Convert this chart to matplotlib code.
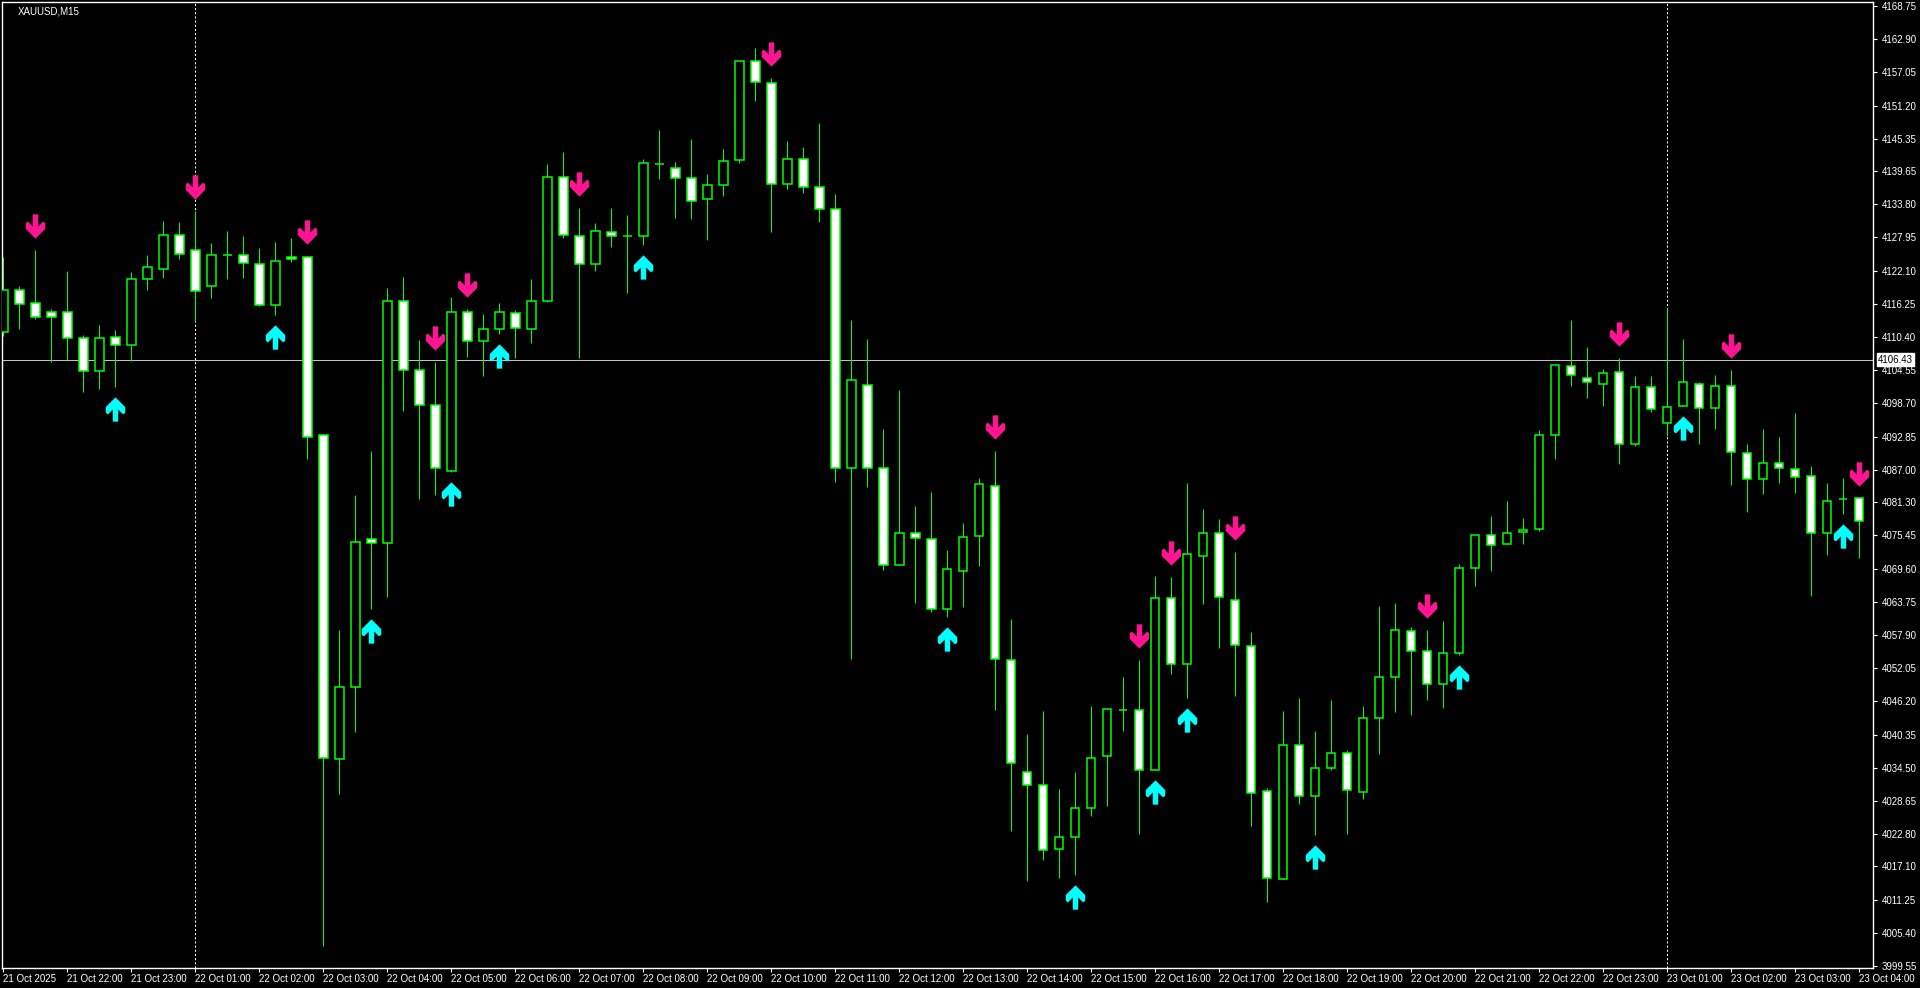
import numpy as np
import matplotlib
matplotlib.use("Agg")
import matplotlib.pyplot as plt
from matplotlib.path import Path
from matplotlib.transforms import offset_copy

# XAUUSD M15 candles, 21 Oct 21:00 -> 23 Oct 04:00
opens = [4111.31, 4118.66, 4116.32, 4114.87, 4114.87, 4110.31, 4104.41, 4110.42, 4109.08, 4120.55,
         4122.44, 4128.45, 4125.67, 4119.32, 4124.89, 4124.89, 4123.33, 4116.10, 4124.56, 4124.45,
         4093.05, 4035.95, 4048.75, 4074.80, 4074.02, 4116.76, 4104.63, 4098.51, 4086.82, 4114.76,
         4109.64, 4111.87, 4114.65, 4111.76, 4116.76, 4138.69, 4128.23, 4123.33, 4128.90, 4128.23,
         4128.23, 4140.92, 4140.14, 4138.36, 4134.69, 4137.25, 4141.59, 4159.06, 4155.17, 4137.36,
         4141.70, 4136.91, 4133.02, 4087.38, 4101.96, 4087.38, 4070.23, 4075.80, 4074.80, 4062.55,
         4069.12, 4075.35, 4084.15, 4053.53, 4033.72, 4031.49, 4020.25, 4022.25, 4027.48, 4036.50,
         4044.74, 4044.74, 4034.16, 4064.33, 4052.75, 4071.79, 4075.80, 4064.11, 4055.98, 4030.38,
         4014.80, 4038.51, 4029.60, 4034.50, 4037.17, 4030.27, 4043.18, 4050.42, 4058.54, 4055.09,
         4049.19, 4054.65, 4069.67, 4075.57, 4073.90, 4076.02, 4076.58, 4093.16, 4105.29, 4103.18,
         4102.18, 4104.30, 4091.49, 4101.62, 4095.17, 4098.29, 4102.18, 4097.95, 4101.85, 4089.93,
         4085.37, 4088.15, 4087.15, 4085.93, 4075.91, 4081.81, 4082.03]
highs = [4124.45, 4119.44, 4125.78, 4115.32, 4121.99, 4110.75, 4112.53, 4111.64, 4121.88, 4124.89,
         4130.90, 4130.68, 4132.57, 4127.00, 4129.12, 4128.23, 4126.12, 4127.12, 4127.90, 4124.67,
         4093.27, 4058.77, 4082.59, 4090.38, 4118.99, 4120.99, 4109.86, 4106.08, 4117.43, 4115.32,
         4114.42, 4116.43, 4115.09, 4120.66, 4140.92, 4143.04, 4133.13, 4130.57, 4133.13, 4131.90,
         4141.70, 4146.82, 4141.25, 4145.37, 4139.14, 4143.59, 4159.06, 4161.40, 4156.06, 4145.04,
         4143.81, 4148.04, 4135.58, 4113.42, 4109.97, 4094.17, 4101.07, 4080.70, 4083.03, 4072.90,
         4077.69, 4085.48, 4090.38, 4060.66, 4040.40, 4044.52, 4030.82, 4033.83, 4045.41, 4044.85,
         4050.42, 4053.53, 4068.34, 4068.12, 4084.70, 4080.14, 4078.25, 4072.57, 4058.43, 4030.93,
         4044.52, 4046.74, 4040.96, 4046.41, 4037.61, 4045.41, 4063.00, 4063.55, 4059.32, 4058.77,
         4060.44, 4070.45, 4075.46, 4078.80, 4081.47, 4078.47, 4094.06, 4105.41, 4113.42, 4108.64,
         4104.74, 4106.63, 4103.52, 4103.52, 4115.54, 4109.97, 4102.40, 4103.63, 4104.52, 4091.60,
         4094.28, 4092.83, 4096.95, 4087.60, 4084.59, 4085.48, 4082.03]
lows = [4110.53, 4111.75, 4113.54, 4106.08, 4106.41, 4100.74, 4101.29, 4101.51, 4106.19, 4118.66,
        4120.77, 4124.22, 4113.09, 4117.21, 4120.55, 4120.77, 4115.87, 4114.20, 4123.55, 4088.82,
        4003.10, 4029.82, 4040.73, 4062.55, 4064.55, 4097.39, 4081.81, 4082.59, 4086.60, 4106.97,
        4103.52, 4110.97, 4106.63, 4109.42, 4116.54, 4127.78, 4106.63, 4122.11, 4126.34, 4118.10,
        4126.56, 4138.25, 4131.46, 4131.13, 4127.45, 4135.24, 4141.14, 4152.05, 4128.90, 4136.47,
        4135.80, 4130.68, 4084.93, 4053.65, 4084.04, 4069.34, 4070.23, 4063.55, 4061.88, 4061.00,
        4062.89, 4070.01, 4044.74, 4023.36, 4014.46, 4018.25, 4015.02, 4015.57, 4026.04, 4027.82,
        4040.96, 4022.81, 4034.16, 4050.97, 4046.86, 4063.44, 4055.54, 4047.08, 4024.26, 4010.79,
        4014.80, 4028.15, 4022.70, 4034.16, 4022.81, 4029.04, 4036.95, 4044.29, 4043.74, 4046.52,
        4044.96, 4054.31, 4066.45, 4069.12, 4073.90, 4073.90, 4076.24, 4088.93, 4101.85, 4099.73,
        4098.29, 4088.04, 4091.27, 4097.17, 4092.94, 4098.29, 4091.49, 4094.28, 4084.37, 4079.58,
        4082.70, 4084.59, 4082.92, 4064.78, 4072.01, 4079.25, 4071.46]
closes = [4118.66, 4116.21, 4113.87, 4113.98, 4110.31, 4104.41, 4110.31, 4109.08, 4120.66, 4122.66,
          4128.45, 4125.00, 4118.54, 4124.78, 4124.89, 4123.44, 4116.10, 4123.89, 4124.11, 4092.72,
          4036.28, 4048.75, 4074.35, 4074.02, 4116.76, 4104.63, 4098.51, 4087.38, 4114.76, 4109.64,
          4111.87, 4114.76, 4111.98, 4116.76, 4138.69, 4128.34, 4123.33, 4129.01, 4128.23, 4128.23,
          4141.03, 4140.92, 4138.47, 4134.46, 4137.25, 4141.37, 4159.06, 4155.28, 4137.36, 4141.70,
          4136.91, 4133.02, 4087.38, 4102.85, 4087.38, 4070.23, 4075.80, 4074.91, 4062.55, 4069.45,
          4075.24, 4084.48, 4053.65, 4035.39, 4031.49, 4020.03, 4022.25, 4027.37, 4036.28, 4044.85,
          4044.74, 4034.05, 4064.33, 4052.75, 4072.23, 4075.80, 4064.66, 4056.09, 4030.05, 4015.13,
          4038.51, 4029.49, 4034.50, 4037.17, 4030.49, 4043.18, 4050.42, 4058.77, 4055.09, 4049.19,
          4054.65, 4069.67, 4075.46, 4073.79, 4075.80, 4076.46, 4093.16, 4105.41, 4103.63, 4102.40,
          4104.07, 4091.60, 4101.62, 4097.73, 4098.06, 4102.40, 4097.95, 4101.74, 4090.16, 4085.37,
          4088.15, 4087.26, 4085.70, 4075.91, 4081.47, 4081.81, 4077.91]

# signal arrows (candle index)
sell_signals = [2, 12, 19, 27, 29, 36, 48, 62, 71, 73, 77, 89, 101, 108, 116]
buy_signals = [7, 17, 23, 28, 31, 40, 59, 67, 72, 74, 82, 91, 105, 115]

# period separators and current bid
separators = [12, 104]
bid = 4106.43

price_ticks = [4168.75, 4162.90, 4157.05, 4151.20, 4145.35, 4139.65, 4133.80, 4127.95, 4122.10, 4116.25,
               4110.40, 4104.55, 4098.70, 4092.85, 4087.00, 4081.30, 4075.45, 4069.60, 4063.75, 4057.90,
               4052.05, 4046.20, 4040.35, 4034.50, 4028.65, 4022.80, 4017.10, 4011.25, 4005.40, 3999.55]
time_labels = ["21 Oct 2025", "21 Oct 22:00", "21 Oct 23:00", "22 Oct 01:00", "22 Oct 02:00",
               "22 Oct 03:00", "22 Oct 04:00", "22 Oct 05:00", "22 Oct 06:00", "22 Oct 07:00",
               "22 Oct 08:00", "22 Oct 09:00", "22 Oct 10:00", "22 Oct 11:00", "22 Oct 12:00",
               "22 Oct 13:00", "22 Oct 14:00", "22 Oct 15:00", "22 Oct 16:00", "22 Oct 17:00",
               "22 Oct 18:00", "22 Oct 19:00", "22 Oct 20:00", "22 Oct 21:00", "22 Oct 22:00",
               "22 Oct 23:00", "23 Oct 01:00", "23 Oct 02:00", "23 Oct 03:00", "23 Oct 04:00"]

o = np.array(opens)
h = np.array(highs)
l = np.array(lows)
c = np.array(closes)
x = np.arange(len(o))

plt.rcParams['font.family'] = ['Liberation Sans', 'DejaVu Sans']

W, H = 1920, 988
fig = plt.figure(figsize=(W / 100, H / 100), dpi=100, facecolor='black')
ax = fig.add_axes([2 / W, (H - 968) / H, (1873 - 2) / W, (968 - 2) / H], facecolor='black')

green = '#00FF00'

# wicks, then bodies (bear = white, bull = black)
ax.vlines(x, l, h, color=green, linewidth=0.75, zorder=2)
fills = ['white' if cc < oo else 'black' for oo, cc in zip(o, c)]
ax.bar(x, np.abs(c - o), bottom=np.minimum(o, c), width=0.53, color=fills,
       edgecolor=green, linewidth=1.1, zorder=3)

# thick chevron arrow (pointing up), mirrored for the sell arrow
up_verts = [(0, 12.5), (10, 2.5), (10, -3.5), (7.7, -5), (2.8, 0), (2.8, -12.5),
            (-2.8, -12.5), (-2.8, 0), (-7.7, -5), (-10, -3.5), (-10, 2.5), (0, 12.5)]
up_arrow = Path(up_verts, closed=True)
down_arrow = Path([(vx, -vy) for vx, vy in up_verts], closed=True)

sell_tr = offset_copy(ax.transData, fig=fig, x=0, y=24, units='dots')
buy_tr = offset_copy(ax.transData, fig=fig, x=0, y=-22, units='dots')
ax.plot(x[sell_signals], h[sell_signals], linestyle='none', marker=down_arrow, markersize=17.5,
        color='#FF1493', markeredgewidth=0, transform=sell_tr, zorder=4)
ax.plot(x[buy_signals], l[buy_signals], linestyle='none', marker=up_arrow, markersize=17.5,
        color='#00FFFF', markeredgewidth=0, transform=buy_tr, zorder=4)

# separators and bid line
for s in separators:
    ax.axvline(s, color='white', linewidth=0.75, linestyle=(0, (2, 2)), zorder=1)
ax.axhline(bid, color='#C0C0C0', linewidth=0.75, zorder=1)

ax.set_xlim(-0.08, 116.86)
ax.set_ylim(3999.2, 4169.45)

# axes styling
for sp in ax.spines.values():
    sp.set_color('white')
    sp.set_linewidth(1)

ax.yaxis.tick_right()
ax.set_yticks(price_ticks, [f"{p:.2f}" for p in price_ticks])
ax.set_xticks(x[::4], time_labels)
for lab in ax.get_xticklabels():
    lab.set_horizontalalignment('left')
ax.tick_params(axis='both', colors='white', labelcolor='white', labelsize=7,
               direction='out', length=3, width=0.8)
ax.tick_params(axis='y', pad=3)
ax.tick_params(axis='x', pad=1)

# bid label on the price scale
ax.annotate(f"{bid:.2f}", xy=(1.0, bid), xycoords=('axes fraction', 'data'),
            xytext=(5, 0), textcoords='offset pixels', ha='left', va='center',
            fontsize=7, color='black', zorder=5, annotation_clip=False,
            bbox=dict(boxstyle='square,pad=0.15', fc='white', ec='white'))

# symbol caption
ax.annotate("XAUUSD,M15", xy=(0, 1), xycoords='axes fraction', xytext=(16, -9),
            textcoords='offset pixels', ha='left', va='center', fontsize=7, color='white')

fig.savefig("out.png", dpi=100, facecolor='black')
